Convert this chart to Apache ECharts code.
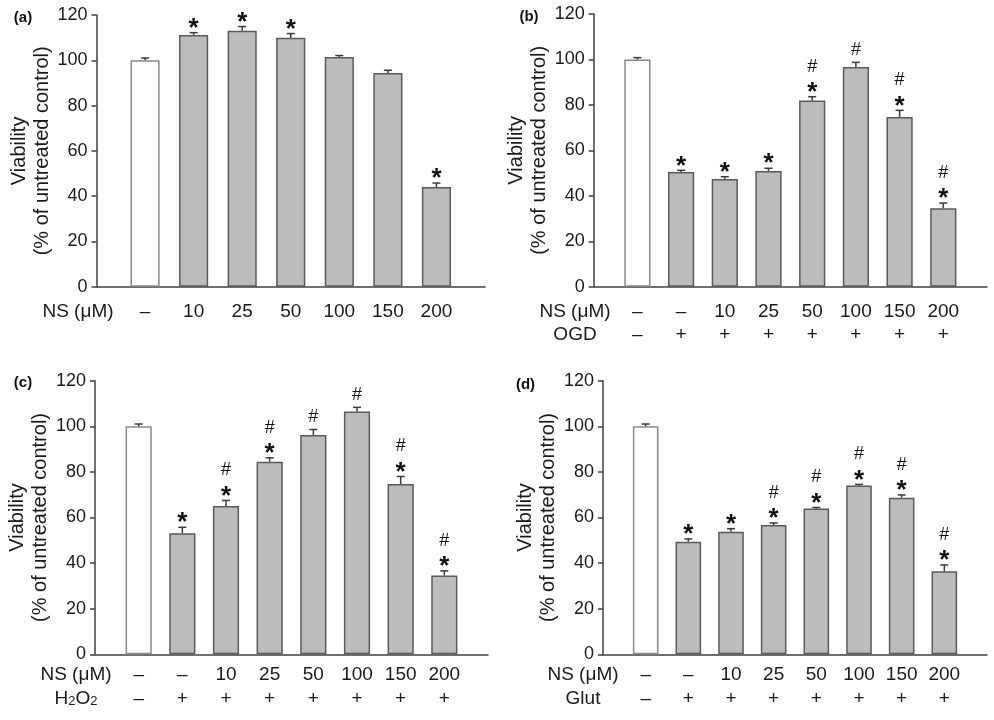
<!DOCTYPE html>
<html><head><meta charset="utf-8">
<script src="https://cdn.jsdelivr.net/npm/echarts@6/dist/echarts.min.js"></script>
<style>html,body{margin:0;padding:0;background:#fff}#c{width:994px;height:720px}</style>
</head><body><div id="c"></div>
<script>
// ---- data ----
const nsA = ['–','10','25','50','100','150','200'];
const valA = [100,111.2,113,109.9,101.5,94.4,44];
const errA = [1,1,1.9,1.9,0.6,1.2,1.8];
const sigA = ['','*','*','*','','','*'];

const nsBCD = ['–','–','10','25','50','100','150','200'];
const treatBCD = ['–','+','+','+','+','+','+','+'];

const valB = [100,50.5,47.4,50.9,81.9,96.7,74.7,34.5];
const errB = [0.8,0.7,1.0,1.2,1.7,2.0,2.9,2.3];
const sigB = ['','*','*','*','#*','#','#*','#*'];

const valC = [100,53.1,65,84.5,96.2,106.5,74.7,34.6];
const errC = [1,2.6,2.5,1.7,2.4,1.8,3.3,2.0];
const sigC = ['','*','#*','#*','#','#','#*','#*'];

const valD = [100,49.4,53.8,56.7,63.9,74,68.7,36.4];
const errD = [1,1.2,1.3,0.9,0.5,0.5,1.2,2.8];
const sigD = ['','*','*','#*','#*','#*','#*','#*'];

const yMin = 0, yMax = 120, yStep = 20;
const yName = 'Viability\n(% of untreated control)';

// ---- layout ----
const FONT = '"Liberation Sans", Arial, sans-serif';
const panels = [
  {tag:'(a)', tagPos:[23,18], grid:{left:96.5, top:15, width:388.5, height:271.7}, ns:nsA, treat:null, vals:valA, errs:errA, sigs:sigA, margin:13, head:[78,311.7], treatName:null},
  {tag:'(b)', tagPos:[529,17], grid:{left:593.7, top:14, width:393.3, height:272.7}, ns:nsBCD, treat:treatBCD, vals:valB, errs:errB, sigs:sigB, margin:13, head:[575,311.7], treatName:'OGD'},
  {tag:'(c)', tagPos:[23,383], grid:{left:95, top:380.7, width:393, height:273.6}, ns:nsBCD, treat:treatBCD, vals:valC, errs:errC, sigs:sigC, margin:9, head:[76,675], treatName:'H{s|2}O{s|2}'},
  {tag:'(d)', tagPos:[525.5,385], grid:{left:603, top:380.7, width:384, height:273.6}, ns:nsBCD, treat:treatBCD, vals:valD, errs:errD, sigs:sigD, margin:9, head:[583,675], treatName:'Glut'}
];

const LH = 23.5;
const grids=[], xAxes=[], yAxes=[], series=[], graphics=[];

function makeRender(errs, sigs){
  return function(params, api){
    const i = params.dataIndex;
    const x = api.value(0), v = api.value(1), e = errs[i];
    const p0 = api.coord([x, v]);
    const p1 = api.coord([x, v + e]);
    const cap = 4;
    const st = {stroke:'#3a3a3a', lineWidth:1.5};
    const ch = [
      {type:'line', shape:{x1:p0[0], y1:p0[1], x2:p1[0], y2:p1[1]}, style:st},
      {type:'line', shape:{x1:p1[0]-cap, y1:p1[1], x2:p1[0]+cap, y2:p1[1]}, style:st}
    ];
    const s = sigs[i];
    let yy = p1[1];
    if (s.indexOf('*') >= 0) {
      ch.push({type:'text', style:{text:'*', x:p1[0], y:yy-4, align:'center', verticalAlign:'middle', font:'bold 26px ' + FONT, fill:'#111'}});
      yy -= 18;
    }
    if (s.indexOf('#') >= 0) {
      ch.push({type:'text', style:{text:'#', x:p1[0], y:yy-12, align:'center', verticalAlign:'middle', font:'18px ' + FONT, fill:'#111'}});
    }
    return {type:'group', children:ch};
  };
}

panels.forEach((p, k) => {
  grids.push(Object.assign({containLabel:false}, p.grid));
  const labels = p.ns.map((n, i) => p.treat ? n + '\n' + p.treat[i] : n);
  xAxes.push({
    type:'category', gridIndex:k, boundaryGap:false,
    data:[''].concat(labels, ['']),
    axisLine:{lineStyle:{color:'#404040', width:1.5}},
    axisTick:{show:false},
    axisLabel:{interval:0, margin:p.margin, fontSize:19, lineHeight:LH, color:'#1a1a1a', fontFamily:FONT},
    splitLine:{show:false}
  });
  yAxes.push({
    type:'value', gridIndex:k, min:yMin, max:yMax, interval:yStep,
    name:yName, nameLocation:'middle', nameGap:35,
    nameTextStyle:{fontSize:20, lineHeight:23, color:'#1a1a1a', fontFamily:FONT},
    axisLine:{show:true, lineStyle:{color:'#404040', width:1.5}},
    axisTick:{show:true, length:5, lineStyle:{color:'#404040', width:1.5}},
    axisLabel:{margin:9, fontSize:18, color:'#1a1a1a', fontFamily:FONT},
    splitLine:{show:false}
  });
  series.push({
    type:'bar', xAxisIndex:k, yAxisIndex:k, barWidth:'60%',
    itemStyle:{color:'#bcbcbc', borderColor:'#5a5a5a', borderWidth:1.5},
    data:['-'].concat(p.vals.map((v, i) => i === 0 ? {value:v, itemStyle:{color:'#ffffff', borderColor:'#8a8a8a'}} : v)),
    silent:true, animation:false
  });
  series.push({
    type:'custom', xAxisIndex:k, yAxisIndex:k, clip:false,
    renderItem:makeRender(p.errs, p.sigs),
    data:p.vals.map((v, i) => [i + 1, v]),
    z:5, silent:true, animation:false
  });
  graphics.push({type:'text', x:p.tagPos[0], y:p.tagPos[1],
    style:{text:p.tag, align:'center', verticalAlign:'middle', font:'bold 15px ' + FONT, fill:'#111'}});
  graphics.push({type:'text', x:p.head[0], y:p.head[1],
    style:{text:'NS (μM)', align:'center', verticalAlign:'middle', font:'19px ' + FONT, fill:'#1a1a1a'}});
  if (p.treatName) {
    graphics.push({type:'text', x:p.head[0], y:p.head[1] + LH,
      style:{text:p.treatName, align:'center', verticalAlign:'middle', font:'19px ' + FONT, fill:'#1a1a1a',
        rich:{s:{fontSize:13, lineHeight:13, verticalAlign:'bottom', fontFamily:FONT, fill:'#1a1a1a'}}}});
  }
});

const chart = echarts.init(document.getElementById('c'), null, {renderer:'canvas'});
chart.setOption({
  animation:false,
  backgroundColor:'#fff',
  grid:grids, xAxis:xAxes, yAxis:yAxes, series:series, graphic:graphics
});
</script>
</body></html>
